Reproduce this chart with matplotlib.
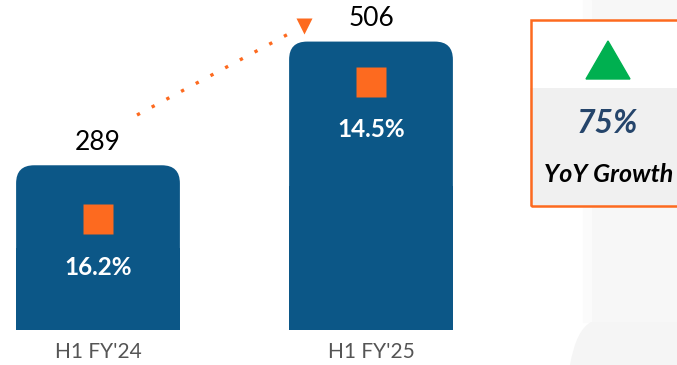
import matplotlib
matplotlib.use('Agg')
import matplotlib.pyplot as plt
from matplotlib.patches import FancyBboxPatch, Rectangle, Polygon, PathPatch
from matplotlib.path import Path

# 数据
categories = ["H1 FY'24", "H1 FY'25"]
values = [289, 506]
margins = ['16.2%', '14.5%']
growth = '75%'
growth_label = 'YoY Growth'

BLUE = '#0c5787'
ORANGE = '#fd6a1f'
GREEN = '#00b050'

W, H = 677, 365
plt.rcParams['font.family'] = ['Lato', 'DejaVu Sans']

fig = plt.figure(figsize=(W / 100, H / 100), dpi=100)
ax = fig.add_axes([0, 0, 1, 1])

# 坐标换算: 柱中心 98px, 间距 273px, 基线 330px, 每单位 0.57px
px_x, px_y = 273, 0.57
x0_px, base_px = 98, 330
ax.set_xlim(-x0_px / px_x, (W - x0_px) / px_x)
ax.set_ylim(-(H - base_px) / px_y, base_px / px_y)
ax.axis('off')


def to_data(px, py):
    return (px - x0_px) / px_x, (base_px - py) / px_y


def fig_xy(px, py):
    return px / W, 1 - py / H


def fig_rect(left, top, right, bottom, **kw):
    """像素矩形 -> 图形坐标矩形"""
    return Rectangle(fig_xy(left, bottom), (right - left) / W, (bottom - top) / H,
                     transform=fig.transFigure, **kw)


# 右侧卡片背景
fig.patches.append(fig_rect(591, 0, 677, 322, color='#f7f7f7', zorder=0))
fig.patches.append(fig_rect(583, 0, 591, 322, color='#fbfbfb', zorder=0))
verts = [fig_xy(570, 365), fig_xy(576, 330), fig_xy(591, 322), fig_xy(677, 322),
         fig_xy(677, 365), fig_xy(570, 365)]
codes = [Path.MOVETO, Path.CURVE3, Path.CURVE3, Path.LINETO, Path.LINETO, Path.CLOSEPOLY]
fig.patches.append(PathPatch(Path(verts, codes), transform=fig.transFigure,
                             facecolor='#f5f5f5', edgecolor='none', zorder=0))

# 柱子(上圆角)
width = 0.6
r = 18 / px_x
for i, v in enumerate(values):
    ax.add_patch(FancyBboxPatch((i - width / 2, 0), width, v,
                                boxstyle='round,pad=0,rounding_size=%f' % r,
                                mutation_aspect=px_x / px_y, facecolor=BLUE, edgecolor='none'))
    ax.add_patch(Rectangle((i - width / 2, 0), width, v / 2, facecolor=BLUE, edgecolor='none'))

# 柱上数值、方块、百分比、类别
sq_drop = [54, 40]
txt_drop = [102, 88]
for i, v in enumerate(values):
    ax.annotate('%d' % v, (i, v), xytext=(0, 23 * 0.72), textcoords='offset points',
                ha='center', va='center', fontsize=19, color='black')
    ax.plot(i, v - sq_drop[i] / px_y, marker='s', markersize=21, color=ORANGE, mec='none')
    ax.annotate(margins[i], (i, v), xytext=(0, -txt_drop[i] * 0.72), textcoords='offset points',
                ha='center', va='center', fontsize=17.5, fontweight='bold', color='white')
    ax.annotate(categories[i], (i, 0), xytext=(0, -22 * 0.72), textcoords='offset points',
                ha='center', va='center', fontsize=15, color='#555555')

# 虚线箭头
sx, sy = to_data(137, 115)
ex, ey = to_data(294, 31)
ax.plot([sx, ex], [sy, ey], color=ORANGE, lw=2.4, linestyle=(0, (1, 4)), solid_capstyle='butt')
hx, hy = to_data(304, 26)
ax.plot(hx, hy, marker='v', markersize=12, color=ORANGE, mec='none')

# YoY 增长框
fig.patches.append(fig_rect(530, 20, 677, 88, facecolor='white', edgecolor='none', zorder=1))
fig.patches.append(fig_rect(530, 88, 677, 207, facecolor='#f0f0f0', edgecolor='none', zorder=1))
fig.patches.append(fig_rect(531, 20, 681, 206, facecolor='none', edgecolor=ORANGE, lw=1.8, zorder=2))
fig.patches.append(Polygon([fig_xy(586, 79), fig_xy(630, 79), fig_xy(608, 41)],
                           transform=fig.transFigure, color=GREEN, zorder=2))
fig.text(*fig_xy(607, 124), growth, ha='center', va='center', fontsize=23,
         fontweight='bold', fontstyle='italic', color='#25456b')
fig.text(*fig_xy(609, 174), growth_label, ha='center', va='center', fontsize=18,
         fontweight='bold', fontstyle='italic', color='black')

plt.savefig('out.png', dpi=100)
